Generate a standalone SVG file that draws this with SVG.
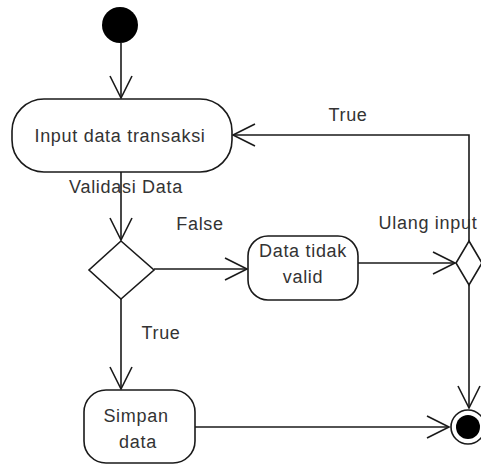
<svg xmlns="http://www.w3.org/2000/svg" width="481" height="466" viewBox="0 0 481 466">
<style>
.n{fill:#fff;stroke:#1a1a1a;stroke-width:1.6}
.c{fill:none;stroke:#1a1a1a;stroke-width:1.6}
text{font-family:"Liberation Sans",Arial,sans-serif;font-size:18px;fill:#333;letter-spacing:0.7px;text-anchor:middle}
</style>
<defs>
<marker id="a" viewBox="-24 -13 26 26" markerWidth="26" markerHeight="26" refX="0" refY="0" orient="auto" markerUnits="userSpaceOnUse">
<path d="M-22,-11 L0,0 L-22,11" fill="none" stroke="#1a1a1a" stroke-width="1.6"/>
</marker>
</defs>
<g id="connectors">
<path class="c" d="M121,43 V98" marker-end="url(#a)"/>
<path class="c" d="M121,172 V240" marker-end="url(#a)"/>
<path class="c" d="M154,269 H247" marker-end="url(#a)"/>
<path class="c" d="M358,263 H455" marker-end="url(#a)"/>
<path class="c" d="M469,241 V135 H233" marker-end="url(#a)"/>
<path class="c" d="M469,285 V408" marker-end="url(#a)"/>
<path class="c" d="M121,299 V389" marker-end="url(#a)"/>
<path class="c" d="M195,427 H449" marker-end="url(#a)"/>
<text x="126" y="193">Validasi Data</text>
<text x="200" y="230">False</text>
<text x="348" y="121">True</text>
<text x="428" y="229">Ulang input</text>
<text x="161" y="339">True</text>
</g>
<g id="start"><circle cx="120" cy="25" r="18" fill="#000"/></g>
<g id="input"><rect class="n" x="12" y="99" width="220" height="73" rx="32"/><text x="120" y="142">Input data transaksi</text></g>
<g id="decision1"><path class="n" d="M121,241 L154,270 L121,299 L89,270 Z"/></g>
<g id="invalid"><rect class="n" x="248" y="236" width="110" height="64" rx="20"/><text x="303" y="257">Data tidak</text><text x="303" y="283">valid</text></g>
<g id="decision2"><path class="n" d="M469,241 L482,263 L469,285 L456,263 Z"/></g>
<g id="save"><rect class="n" x="84" y="390" width="111" height="73" rx="22"/><text x="136" y="422">Simpan</text><text x="138" y="448">data</text></g>
<g id="end"><circle cx="468" cy="427" r="17" fill="#fff" stroke="#1a1a1a" stroke-width="1.6"/><circle cx="468" cy="427" r="12" fill="#000"/></g>
</svg>
